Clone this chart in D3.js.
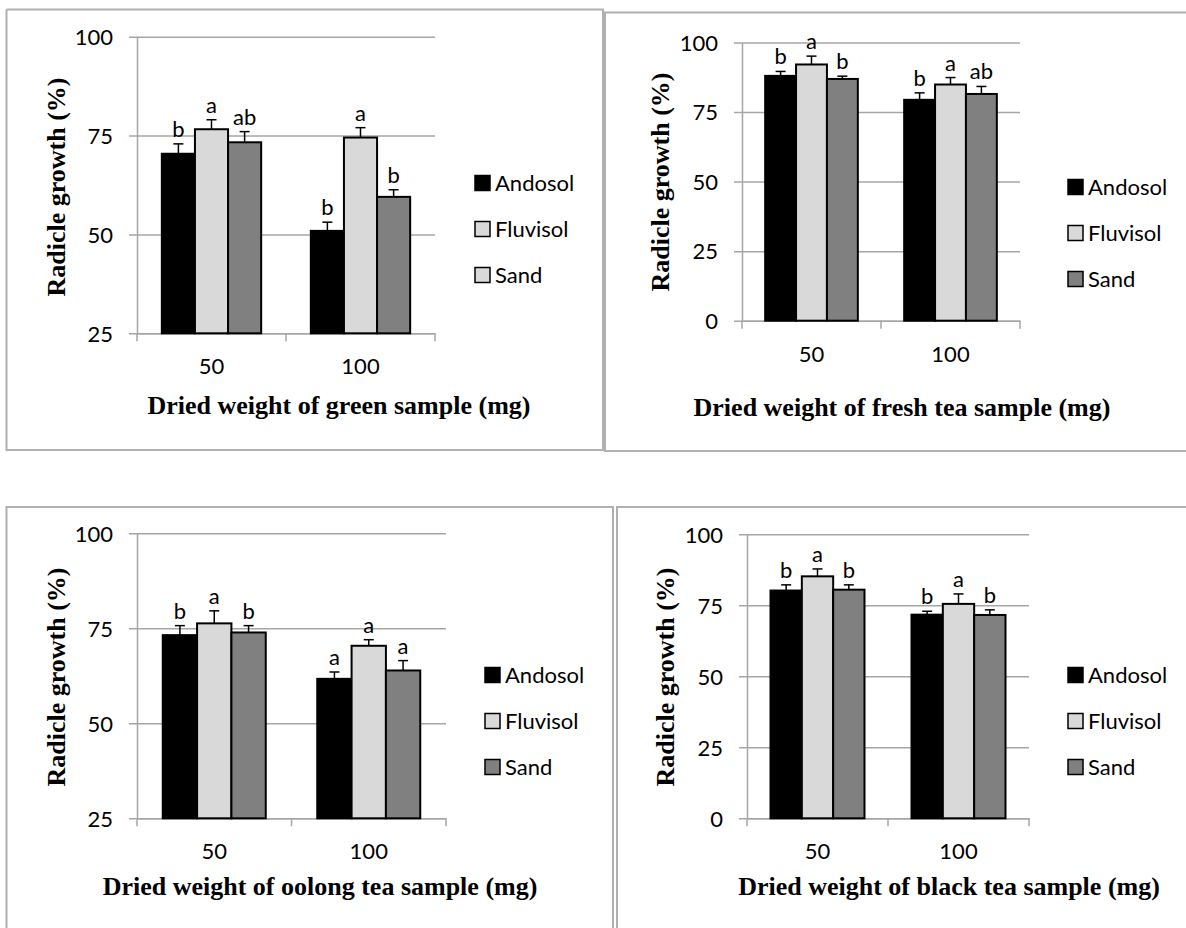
<!DOCTYPE html>
<html>
<head>
<meta charset="utf-8">
<script src="https://cdn.jsdelivr.net/npm/d3@7"></script>
<style>
  body { margin: 0; background: #fff; }
  svg { display: block; }
  .tick text, .lab, .legend text { font-family: Lato, "Open Sans", sans-serif; font-size: 22px; fill: #000; }
  .title { font-family: "Liberation Serif", "Times New Roman", serif; font-weight: bold; font-size: 26px; fill: #000; }
</style>
</head>
<body>
<div class="chart"></div>
<script>
// radicle growth (%) under four tea samples, three soils, two doses
const soils = ["Andosol", "Fluvisol", "Sand"];
const doses = ["50", "100"];

const greenMeans = [[70.4, 76.6, 73.3], [50.9, 74.5, 59.5]];
const greenErrors = [[2.5, 2.4, 2.7], [2.2, 2.5, 1.8]];
const greenLetters = [["b", "a", "ab"], ["b", "a", "b"]];

const freshMeans = [[88.0, 92.1, 86.9], [79.4, 84.9, 81.5]];
const freshErrors = [[1.6, 3.0, 1.0], [2.5, 2.5, 2.7]];
const freshLetters = [["b", "a", "b"], ["b", "a", "ab"]];

const oolongMeans = [[73.2, 76.3, 73.9], [61.7, 70.4, 63.9]];
const oolongErrors = [[2.5, 3.3, 1.8], [1.8, 1.6, 2.6]];
const oolongLetters = [["b", "a", "b"], ["a", "a", "a"]];

const blackMeans = [[80.2, 85.2, 80.5], [71.7, 75.5, 71.6]];
const blackErrors = [[2.0, 2.6, 1.7], [1.2, 3.5, 1.8]];
const blackLetters = [["b", "a", "b"], ["b", "a", "b"]];

const ticks25 = [25, 50, 75, 100];
const ticks0 = [0, 25, 50, 75, 100];

const fills = ["#000000", "#d9d9d9", "#808080"];
// the green panel legend shows Sand with the light swatch
const greenLegendFills = ["#000000", "#d9d9d9", "#d9d9d9"];

const W = 1186, H = 928;

const svg = d3.select(".chart").append("svg")
  .attr("width", W)
  .attr("height", H);

// panel frames
const frameColor = "#b0b0b0";
const frames = [
  [[6.5, 9.5], [603, 9.5], [603, 450], [6.5, 450], [6.5, 9.5]],
  [[1190, 12.5], [605, 12.5], [605, 451], [1190, 451]],
  [[6.5, 930], [6.5, 507], [613, 507], [613, 930]],
  [[1190, 507], [617, 507], [617, 930]]
];
frames.forEach(f => {
  svg.append("path")
    .attr("d", d3.line()(f))
    .attr("fill", "none")
    .attr("stroke", frameColor)
    .attr("stroke-width", 2);
});

const panels = [
  { means: greenMeans, errors: greenErrors, letters: greenLetters, yTicks: ticks25, legendFills: greenLegendFills,
    left: 137, right: 435, top: 36.7, bottom: 333.3,
    legendX: 475, legendY: 183, xTitle: "Dried weight of green sample (mg)", xTitleX: 339, xTitleY: 405,
    yTitleX: 56, yTitleY: 187 },
  { means: freshMeans, errors: freshErrors, letters: freshLetters, yTicks: ticks0, legendFills: fills,
    left: 742, right: 1020, top: 42.5, bottom: 320.7,
    legendX: 1068, legendY: 187, xTitle: "Dried weight of fresh tea sample (mg)", xTitleX: 902, xTitleY: 407,
    yTitleX: 660, yTitleY: 182 },
  { means: oolongMeans, errors: oolongErrors, letters: oolongLetters, yTicks: ticks25, legendFills: fills,
    left: 137, right: 446, top: 533.3, bottom: 818.3,
    legendX: 485, legendY: 675, xTitle: "Dried weight of oolong tea sample (mg)", xTitleX: 320, xTitleY: 886,
    yTitleX: 56, yTitleY: 677 },
  { means: blackMeans, errors: blackErrors, letters: blackLetters, yTicks: ticks0, legendFills: fills,
    left: 747, right: 1029, top: 534.3, bottom: 818.3,
    legendX: 1068, legendY: 675, xTitle: "Dried weight of black tea sample (mg)", xTitleX: 949, xTitleY: 886,
    yTitleX: 665, yTitleY: 677 }
];

const gridColor = "#a6a6a6";

panels.forEach(p => {
  const pw = p.right - p.left;
  const ph = p.bottom - p.top;
  const g = svg.append("g").attr("transform", `translate(${p.left},${p.top})`);

  const y = d3.scaleLinear().domain([p.yTicks[0], 100]).range([ph, 0]);
  const x0 = d3.scaleBand().domain(doses).range([0, pw]).paddingInner(0).paddingOuter(0);
  const x1 = d3.scaleBand().domain(soils).range([0, x0.bandwidth()]).paddingInner(0).paddingOuter(0.75);

  // y axis with gridlines
  const yAxis = g.append("g")
    .call(d3.axisLeft(y).tickValues(p.yTicks).tickSizeInner(-pw).tickSizeOuter(0).tickPadding(24));
  yAxis.select(".domain").attr("stroke", gridColor).attr("stroke-width", 1.5);
  yAxis.selectAll(".tick line").attr("stroke", gridColor).attr("stroke-width", 1.5).attr("x1", -8);
  yAxis.selectAll(".tick text").attr("dy", "0.35em");

  // x axis
  const xAxis = g.append("g")
    .attr("transform", `translate(0,${ph})`)
    .call(d3.axisBottom(x0).tickSize(0).tickPadding(0));
  xAxis.select(".domain").attr("stroke", gridColor).attr("stroke-width", 1.5);
  xAxis.selectAll(".tick text").attr("dy", null).attr("y", 41);
  const bounds = [0].concat(doses.map(d => x0(d) + x0.bandwidth()));
  xAxis.selectAll(".bound")
    .data(bounds)
    .enter()
    .append("line")
    .attr("class", "bound")
    .attr("x1", d => d).attr("x2", d => d)
    .attr("y1", 0).attr("y2", 8)
    .attr("stroke", gridColor)
    .attr("stroke-width", 1.5);

  // bars
  const rows = [];
  doses.forEach((d, i) => {
    soils.forEach((s, j) => {
      rows.push({ dose: d, soil: s, j: j, v: p.means[i][j], e: p.errors[i][j], l: p.letters[i][j] });
    });
  });

  const bx = r => x0(r.dose) + x1(r.soil);
  const bw = x1.bandwidth();

  g.selectAll(".bar")
    .data(rows)
    .enter()
    .append("rect")
    .attr("class", "bar")
    .attr("x", bx)
    .attr("y", r => y(r.v))
    .attr("width", bw)
    .attr("height", r => ph - y(r.v))
    .attr("fill", r => fills[r.j])
    .attr("stroke", "#000")
    .attr("stroke-width", 2);

  // error bars (upper only)
  const err = g.selectAll(".err")
    .data(rows)
    .enter()
    .append("g")
    .attr("class", "err")
    .attr("stroke", "#000")
    .attr("stroke-width", 1.5);
  err.append("line")
    .attr("x1", r => bx(r) + bw / 2).attr("x2", r => bx(r) + bw / 2)
    .attr("y1", r => y(r.v)).attr("y2", r => y(r.v + r.e));
  err.append("line")
    .attr("x1", r => bx(r) + bw / 2 - 5).attr("x2", r => bx(r) + bw / 2 + 5)
    .attr("y1", r => y(r.v + r.e)).attr("y2", r => y(r.v + r.e));

  // significance letters
  g.selectAll(".lab")
    .data(rows)
    .enter()
    .append("text")
    .attr("class", "lab")
    .attr("x", r => bx(r) + bw / 2)
    .attr("y", r => y(r.v + r.e) - 7)
    .attr("text-anchor", "middle")
    .text(r => r.l);

  // legend
  const leg = svg.append("g").attr("class", "legend")
    .attr("transform", `translate(${p.legendX},${p.legendY})`);
  const item = leg.selectAll("g")
    .data(soils)
    .enter()
    .append("g")
    .attr("transform", (d, i) => `translate(0,${i * 46})`);
  item.append("rect")
    .attr("x", 0).attr("y", -7.5)
    .attr("width", 15).attr("height", 15)
    .attr("fill", (d, i) => p.legendFills[i])
    .attr("stroke", "#000")
    .attr("stroke-width", 1.5);
  item.append("text")
    .attr("x", 20)
    .attr("dy", "0.35em")
    .text(d => d);

  // axis titles
  svg.append("text")
    .attr("class", "title")
    .attr("x", p.xTitleX)
    .attr("y", p.xTitleY)
    .attr("text-anchor", "middle")
    .attr("dy", "0.35em")
    .text(p.xTitle);

  svg.append("text")
    .attr("class", "title")
    .attr("transform", `translate(${p.yTitleX},${p.yTitleY}) rotate(-90)`)
    .attr("text-anchor", "middle")
    .attr("dy", "0.35em")
    .text("Radicle growth (%)");
});
</script>
</body>
</html>
